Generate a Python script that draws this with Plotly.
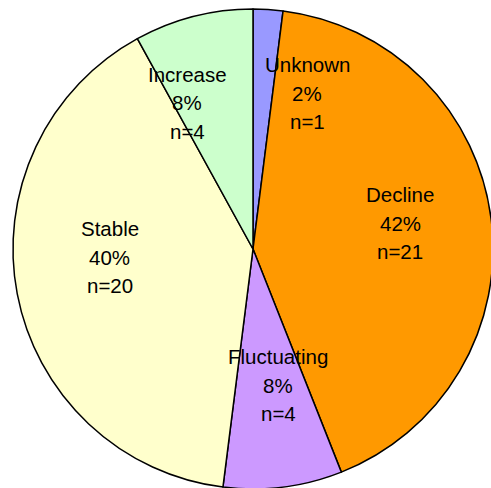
import plotly.graph_objects as go

labels = ["Unknown", "Decline", "Fluctuating", "Stable", "Increase"]
counts = [1, 21, 4, 20, 4]
colors = ["#9999FF", "#FF9900", "#CC99FF", "#FFFFCC", "#CCFFCC"]

W, H = 500, 500
ML, MR, MT, MB = 13, 7, 9, 11
PW, PH = W - ML - MR, H - MT - MB
OFF = 0  # page body offset (body margin removed below)

fig = go.Figure(go.Pie(
    labels=labels,
    values=counts,
    sort=False,
    direction="clockwise",
    rotation=0,
    marker=dict(colors=colors, line=dict(color="black", width=1.5)),
    textinfo="none",
    showlegend=False,
    hovertemplate="%{label}<br>%{percent:.0%}<br>n=%{value}<extra></extra>",
))

# label centres (window pixels) for each slice's text block
label_pos = {
    "Unknown": (307, 93),
    "Decline": (400, 223),
    "Fluctuating": (278, 385),
    "Stable": (109.5, 257),
    "Increase": (187, 103),
}
total = sum(counts)
line_gap = 28.5
for lab, n in zip(labels, counts):
    px, py = label_pos[lab]
    xp = (px - OFF - ML) / PW
    yp = 1 - (py - OFF - MT) / PH
    lines = [lab, f"{round(100 * n / total)}%", f"n={n}"]
    for i, t in enumerate(lines):
        fig.add_annotation(
            x=xp, y=yp, xref="paper", yref="paper",
            text=t, showarrow=False,
            xanchor="center", yanchor="middle",
            yshift=(1 - i) * line_gap,
            font=dict(family="Liberation Sans, Arial", size=20.5, color="black"),
        )

fig.update_layout(
    width=W, height=H,
    margin=dict(l=ML, r=MR, t=MT, b=MB),
    paper_bgcolor="white",
)
fig.write_html(
    "out.html",
    config={"displayModeBar": False},
    post_script="document.body.style.margin='0';document.body.style.overflow='hidden';"
                "document.documentElement.style.overflow='hidden';",
)
